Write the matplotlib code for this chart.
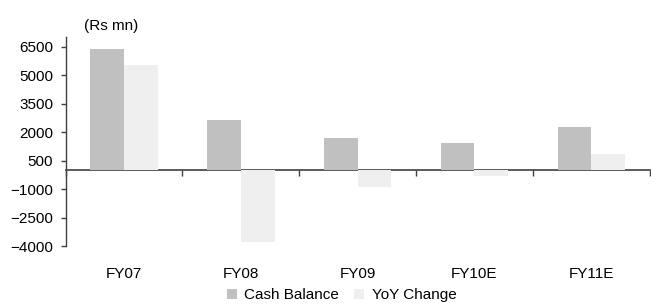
import matplotlib
matplotlib.use("Agg")
import matplotlib.pyplot as plt
import numpy as np

categories = ["FY07", "FY08", "FY09", "FY10E", "FY11E"]
cash_balance = [6350, 2610, 1710, 1400, 2240]
yoy_change = [5510, -3810, -910, -330, 820]
yticks = [6500, 5000, 3500, 2000, 500, -1000, -2500, -4000]

plt.rcParams['font.family'] = ['Liberation Sans', 'DejaVu Sans']

fig = plt.figure(figsize=(6.51, 3.06), dpi=100)
ax = fig.add_axes([0.1009, 0.196, 0.897, 0.683])

x = np.arange(len(categories))
w = 0.288
ax.bar(x - w/2, cash_balance, width=w, color="#C0C0C0", label="Cash Balance")
ax.bar(x + w/2, yoy_change, width=w, color="#EFEFEF", label="YoY Change")

ax.set_xlim(-0.5, len(categories) - 0.5)
ax.set_ylim(-4000, 7000)
ax.set_yticks(yticks)
ax.tick_params(axis='y', labelsize=11, length=3.5, width=1, color="#404040", pad=5.5)

for s in ['top', 'right', 'bottom']:
    ax.spines[s].set_visible(False)
ax.spines['left'].set_color("#404040")
ax.spines['left'].set_linewidth(1)

ax.set_xticks(x)
ax.set_xticklabels(categories)
ax.tick_params(axis='x', length=0, labelsize=11, pad=15)

zero_frac = 4000 / 11000
sec = ax.secondary_xaxis(zero_frac)
sec.set_xticks(np.arange(len(categories) + 1) - 0.5)
sec.set_xticklabels([])
sec.tick_params(axis='x', direction='out', length=4, width=1, color="#404040")
sec.spines['bottom'].set_color("#404040")
sec.spines['bottom'].set_linewidth(1.2)
for s in ['top', 'left', 'right']:
    if s in sec.spines:
        sec.spines[s].set_visible(False)

fig.text(0.171, 0.915, "(Rs mn)", ha='center', va='center', fontsize=11)

leg = fig.legend(loc='center', bbox_to_anchor=(0.525, 0.035), ncol=2, frameon=False,
                 fontsize=11, handlelength=0.65, handleheight=0.65, handletextpad=0.5,
                 columnspacing=1.0, borderpad=0)

fig.savefig("out.png", dpi=100)
